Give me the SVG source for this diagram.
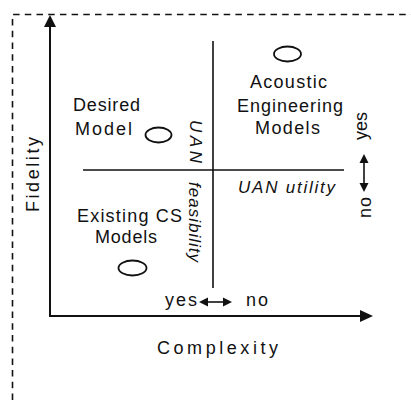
<svg xmlns="http://www.w3.org/2000/svg" width="411" height="400" viewBox="0 0 411 400">
  <defs>
    <style>
      .t { font-family: "Liberation Sans", Arial, sans-serif; font-size: 18px; fill: #111; }
      .i { font-style: italic; font-size: 17px; }
      .ax { stroke: #111; stroke-width: 2; fill: none; }
      .dv { stroke: #111; stroke-width: 1.6; fill: none; }
      .el { stroke: #111; stroke-width: 1.8; fill: #fff; }
      .ah { fill: #111; }
    </style>
  </defs>
  <rect width="411" height="400" fill="#fff"/>
  <path d="M12.5,400 V14.5 H411" fill="none" stroke="#111" stroke-width="1.6" stroke-dasharray="6.5 5.2"/>

  <g id="connectors">
    <line class="ax" x1="50" y1="24" x2="50" y2="317"/>
    <polygon class="ah" points="50,15 44,27 56,27"/>
    <line class="ax" x1="49" y1="316" x2="362" y2="316"/>
    <polygon class="ah" points="373,316 360,310 360,322"/>
    <line class="dv" x1="213" y1="41" x2="213" y2="288"/>
    <line class="dv" x1="83" y1="170" x2="344" y2="170"/>
    <line class="dv" x1="205" y1="302" x2="226" y2="302"/>
    <polygon class="ah" points="199,302 208,297.5 208,306.5"/>
    <polygon class="ah" points="232,302 223,297.5 223,306.5"/>
    <line class="dv" x1="364" y1="160" x2="364" y2="186"/>
    <polygon class="ah" points="364,154 359.5,163 368.5,163"/>
    <polygon class="ah" points="364,192 359.5,183 368.5,183"/>
  </g>

  <g id="axis-fidelity">
    <text class="t" transform="translate(39,212) rotate(-90)" textLength="75" lengthAdjust="spacing">Fidelity</text>
  </g>
  <g id="axis-complexity">
    <text class="t" x="157" y="354" textLength="121" lengthAdjust="spacing">Complexity</text>
  </g>

  <g id="acoustic-engineering-models">
    <ellipse class="el" cx="287.5" cy="54" rx="13.5" ry="7.5"/>
    <text class="t" x="250" y="88" textLength="77" lengthAdjust="spacing">Acoustic</text>
    <text class="t" x="237" y="112" textLength="106" lengthAdjust="spacing">Engineering</text>
    <text class="t" x="255" y="134" textLength="65" lengthAdjust="spacing">Models</text>
  </g>

  <g id="desired-model">
    <ellipse class="el" cx="158.5" cy="135" rx="13" ry="7.5"/>
    <text class="t" x="73" y="111" textLength="67" lengthAdjust="spacing">Desired</text>
    <text class="t" x="75" y="135" textLength="57" lengthAdjust="spacing">Model</text>
  </g>

  <g id="existing-cs-models">
    <ellipse class="el" cx="132.5" cy="268" rx="14" ry="7.5"/>
    <text class="t" x="77" y="222" textLength="105" lengthAdjust="spacing">Existing CS</text>
    <text class="t" x="95" y="243" textLength="62" lengthAdjust="spacing">Models</text>
  </g>

  <g id="uan-feasibility">
    <text class="t i" transform="translate(190,120) rotate(90)" textLength="43" lengthAdjust="spacing">UAN</text>
    <text class="t i" transform="translate(189,182) rotate(90)" textLength="80" lengthAdjust="spacing">feasibility</text>
  </g>

  <g id="uan-utility">
    <text class="t i" x="238" y="193" textLength="97" lengthAdjust="spacing">UAN utility</text>
  </g>

  <g id="feasibility-scale">
    <text class="t" x="165" y="306" textLength="32" lengthAdjust="spacing">yes</text>
    <text class="t" x="246" y="306" textLength="22" lengthAdjust="spacing">no</text>
  </g>

  <g id="utility-scale">
    <text class="t" transform="translate(367,140) rotate(-90)" textLength="28" lengthAdjust="spacing">yes</text>
    <text class="t" transform="translate(371,218) rotate(-90)" textLength="21" lengthAdjust="spacing">no</text>
  </g>
</svg>
